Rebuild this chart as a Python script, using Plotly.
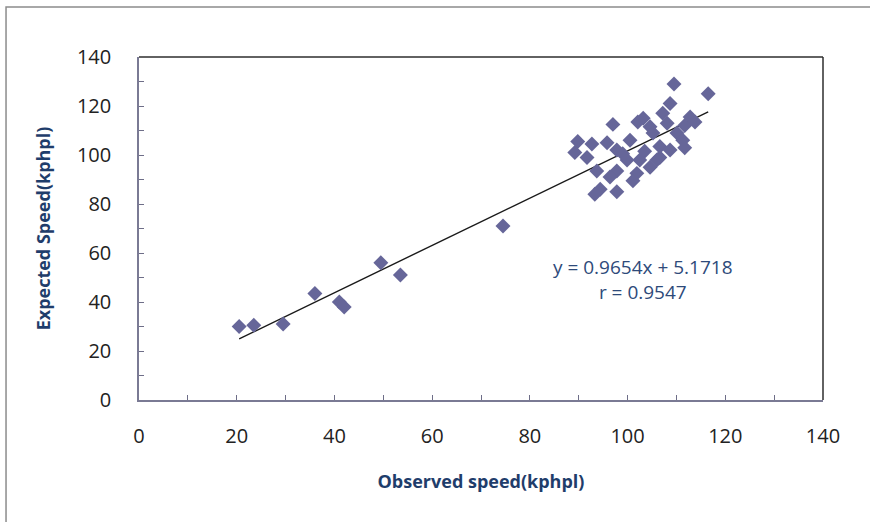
import plotly.graph_objects as go

# Observed vs expected speed (kphpl)
observed = [20.5, 23.5, 29.5, 36.0, 41.0, 42.0, 49.5, 53.5, 74.5,
            109.5, 116.5, 108.7, 112.8, 111.7, 107.2, 108.1, 103.2, 102.1, 97.0,
            104.6, 105.2, 110.1, 89.8, 92.7, 89.2, 91.7, 95.8, 97.8, 100.5,
            99.9, 102.5, 106.6, 106.6, 108.7, 111.3, 111.7, 93.7, 97.8, 101.9,
            104.6, 106.0, 94.4, 97.8, 101.1, 96.4, 113.8, 93.3, 99.0, 103.5]
expected = [30.0, 30.5, 31.0, 43.5, 40.0, 38.0, 56.0, 51.0, 71.0,
            129.0, 125.0, 121.0, 115.5, 112.0, 117.0, 113.0, 115.0, 113.5, 112.5,
            111.5, 109.0, 109.0, 105.5, 104.5, 101.0, 99.0, 105.0, 102.0, 106.0,
            98.0, 98.0, 99.0, 103.5, 102.0, 106.0, 103.0, 93.5, 93.5, 92.5,
            95.0, 98.0, 86.0, 85.0, 89.5, 91.0, 113.5, 84.0, 100.5, 101.5]

slope = 0.9654
intercept = 5.1718
r_value = 0.9547

x_ticks = [0, 20, 40, 60, 80, 100, 120, 140]
y_ticks = [0, 20, 40, 60, 80, 100, 120, 140]

x_line = [min(observed), max(observed)]
y_line = [slope * v + intercept for v in x_line]

fig = go.Figure()
fig.add_trace(go.Scatter(
    x=x_line, y=y_line, mode="lines",
    line=dict(color="#1a1a1a", width=1.4), showlegend=False, hoverinfo="skip"))
fig.add_trace(go.Scatter(
    x=observed, y=expected, mode="markers",
    marker=dict(symbol="diamond", size=11.5, color="#666699", line=dict(width=0)),
    showlegend=False))

tick_font = dict(family="Open Sans", size=20, color="#222222")
title_font = dict(family="Open Sans", size=18, color="#1F3D6B")

fig.update_xaxes(
    range=[0, 140], tickvals=x_ticks, ticks="inside", ticklen=5, tickcolor="#6e6e88",
    showline=True, linecolor="#7a7a94", linewidth=1.5, showgrid=False, zeroline=False,
    tickfont=tick_font, ticklabelstandoff=17,
    minor=dict(dtick=10, ticks="inside", ticklen=5, tickcolor="#6e6e88", showgrid=False),
    title=dict(text="<b>Observed speed(kphpl)</b>", font=title_font, standoff=28))
fig.update_yaxes(
    range=[0, 140], tickvals=y_ticks, ticks="inside", ticklen=5, tickcolor="#6e6e88",
    showline=True, linecolor="#7a7a94", linewidth=1.5, showgrid=False, zeroline=False,
    tickfont=tick_font, ticklabelstandoff=22,
    minor=dict(dtick=10, ticks="inside", ticklen=5, tickcolor="#6e6e88", showgrid=False),
    title=dict(text="<b>Expected Speed(kphpl)</b>", font=title_font, standoff=22))

# top and right frame of the plot area
fig.add_shape(type="line", xref="paper", yref="paper", x0=0, x1=1, y0=1, y1=1,
              line=dict(color="#2e2e2e", width=1.5))
fig.add_shape(type="line", xref="paper", yref="paper", x0=1, x1=1, y0=0, y1=1,
              line=dict(color="#2e2e2e", width=1.5))
# outer chart border (top and left edges)
fig.add_shape(type="rect", xref="paper", yref="paper",
              x0=-0.1944, x1=1.3, y0=-0.5, y1=1.1458,
              line=dict(color="#8c8c8c", width=1.5), layer="below")

fig.add_annotation(x=0.737, y=0.35, xref="paper", yref="paper", showarrow=False,
                   xanchor="center", yanchor="middle",
                   text="y = 0.9654x + 5.1718<br>r = 0.9547",
                   font=dict(family="Open Sans", size=19, color="#2E4A7A"),
                   align="center")

fig.update_layout(
    width=870, height=522,
    margin=dict(l=139, r=47, t=57, b=122),
    paper_bgcolor="white", plot_bgcolor="white",
    showlegend=False)

fig.write_html("out.html")
